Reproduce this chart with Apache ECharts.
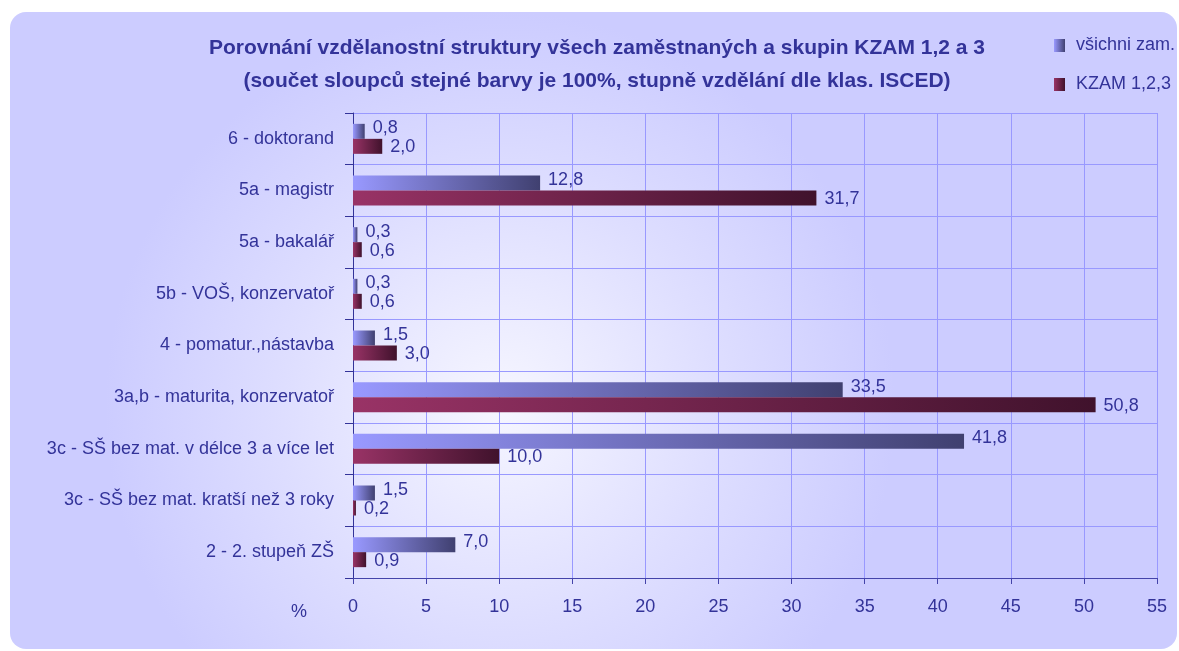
<!DOCTYPE html>
<html>
<head>
<meta charset="utf-8">
<script src="https://cdn.jsdelivr.net/npm/echarts@6/dist/echarts.min.js"></script>
<style>
html, body { margin: 0; padding: 0; background: #ffffff; }
#myChartBar { width: 1179px; height: 651px; }
</style>
</head>
<body>
<div id="myChartBar"></div>
<script>
// categories, from top to bottom as in the picture
var categories = [
  "6 - doktorand",
  "5a - magistr",
  "5a - bakalář",
  "5b - VOŠ, konzervatoř",
  "4 - pomatur.,nástavba",
  "3a,b - maturita, konzervatoř",
  "3c - SŠ bez mat. v délce 3 a více let",
  "3c - SŠ bez mat. kratší než 3 roky",
  "2 - 2. stupeň ZŠ"
];
var vsichni = [0.8, 12.8, 0.3, 0.3, 1.5, 33.5, 41.8, 1.5, 7.0];
var kzam = [2.0, 31.7, 0.6, 0.6, 3.0, 50.8, 10.0, 0.2, 0.9];
var seriesNames = ["všichni zam.", "KZAM 1,2,3"];
var titleLines = [
  "Porovnání vzdělanostní struktury všech zaměstnaných a skupin KZAM 1,2 a 3",
  "(součet sloupců stejné barvy je 100%, stupně vzdělání dle klas. ISCED)"
];

var textColor = "#333399";
var font = "Liberation Sans, Arial, sans-serif";

function fmt(p) {
  return p.value.toFixed(1).replace(".", ",");
}

var myChart = echarts.init(document.getElementById("myChartBar"));
myChart.setOption({
  textStyle: { fontFamily: font },
  graphic: [
    {
      type: "rect",
      z: -10,
      shape: { x: 10, y: 12, width: 1167, height: 637, r: 16 },
      style: {
        fill: new echarts.graphic.RadialGradient(0.42, 0.62, 0.62, [
          { offset: 0, color: "#f6f6ff" },
          { offset: 0.55, color: "#dedeff" },
          { offset: 1, color: "#ccccff" }
        ])
      },
      silent: true
    },
    {
      type: "text",
      left: 291,
      top: 603,
      style: { text: "%", fill: textColor, font: "18px " + font }
    }
  ],
  title: {
    text: titleLines.join("\n"),
    left: 592,
    top: 27,
    textAlign: "center",
    textStyle: {
      color: textColor,
      fontSize: 21,
      fontWeight: "bold",
      lineHeight: 33,
      fontFamily: font
    }
  },
  legend: {
    orient: "vertical",
    left: 1049,
    top: 31,
    icon: "rect",
    itemWidth: 11,
    itemHeight: 13,
    itemGap: 20,
    data: seriesNames,
    textStyle: {
      color: textColor,
      fontSize: 18,
      lineHeight: 19,
      padding: [0, 0, 0, 6],
      fontFamily: font
    }
  },
  grid: {
    left: 353,
    right: 22,
    top: 113,
    bottom: 73,
    containLabel: false
  },
  xAxis: {
    type: "value",
    min: 0,
    max: 55,
    interval: 5,
    axisLine: { show: true, lineStyle: { color: "#4444aa" } },
    axisTick: { show: true, length: 6, lineStyle: { color: "#4444aa" } },
    axisLabel: { color: textColor, fontSize: 18, margin: 20 },
    splitLine: { show: true, lineStyle: { color: "#9999ff", width: 1 } }
  },
  yAxis: {
    type: "category",
    inverse: true,
    data: categories,
    axisLine: { show: true, lineStyle: { color: "#333399" } },
    axisTick: { show: true, length: 8, inside: false, lineStyle: { color: "#333399" } },
    axisLabel: { color: textColor, fontSize: 18, margin: 19 },
    splitLine: { show: true, lineStyle: { color: "#9999ff", width: 1 } }
  },
  series: [
    {
      name: seriesNames[0],
      type: "bar",
      data: vsichni,
      barWidth: 15,
      barGap: "0%",
      itemStyle: {
        color: new echarts.graphic.LinearGradient(0, 0, 1, 0, [
          { offset: 0, color: "#9999ff" },
          { offset: 1, color: "#404070" }
        ])
      },
      label: {
        show: true,
        position: "right",
        distance: 8,
        offset: [0, -3],
        color: textColor,
        fontSize: 18,
        formatter: fmt
      }
    },
    {
      name: seriesNames[1],
      type: "bar",
      data: kzam,
      barWidth: 15,
      itemStyle: {
        color: new echarts.graphic.LinearGradient(0, 0, 1, 0, [
          { offset: 0, color: "#993366" },
          { offset: 1, color: "#40122c" }
        ])
      },
      label: {
        show: true,
        position: "right",
        distance: 8,
        offset: [0, 1],
        color: textColor,
        fontSize: 18,
        formatter: fmt
      }
    }
  ]
});
</script>
</body>
</html>
